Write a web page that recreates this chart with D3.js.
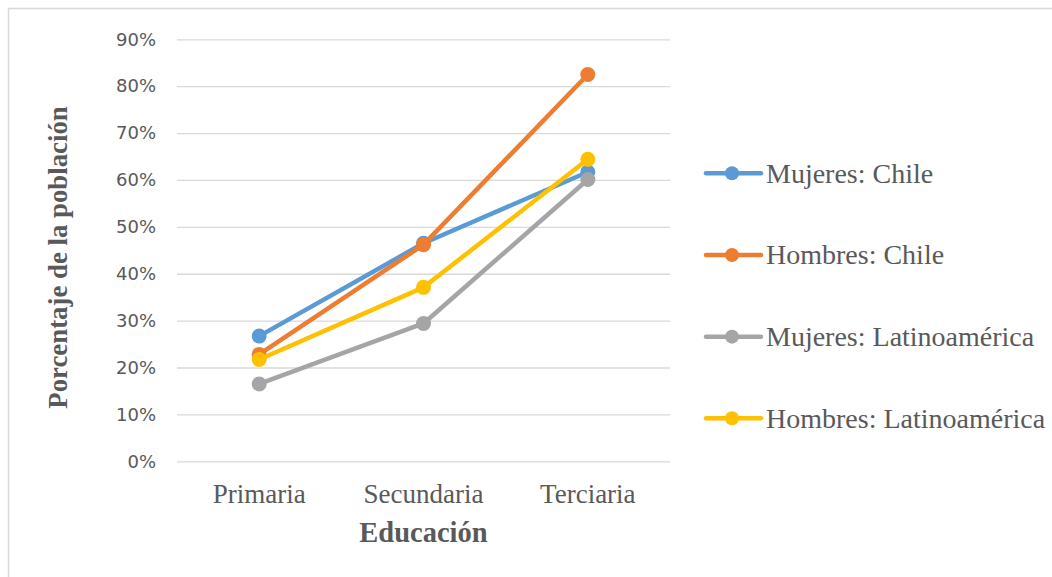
<!DOCTYPE html>
<html>
<head>
<meta charset="utf-8">
<script src="https://cdn.jsdelivr.net/npm/d3@7/dist/d3.min.js"></script>
<style>
  html, body { margin: 0; padding: 0; background: #fff; }
  svg { display: block; }
</style>
</head>
<body>
<svg id="chart" width="1052" height="577"></svg>
<script>
// ---- data ----
const categories = ["Primaria", "Secundaria", "Terciaria"];
const seriesNames = ["Mujeres: Chile", "Hombres: Chile", "Mujeres: Latinoamérica", "Hombres: Latinoamérica"];
const mujeresChile = [26.7, 46.5, 61.7];
const hombresChile = [22.8, 46.2, 82.5];
const mujeresLatam = [16.5, 29.4, 60.1];
const hombresLatam = [21.7, 37.1, 64.4];
const yTicks = [0, 10, 20, 30, 40, 50, 60, 70, 80, 90];
const seriesColors = ["#5B9BD5", "#ED7D31", "#A5A5A5", "#FFC000"];
const xTitle = "Educación";
const yTitle = "Porcentaje de la población";

const seriesValues = [mujeresChile, hombresChile, mujeresLatam, hombresLatam];
const series = seriesNames.map((n, i) => ({ name: n, values: seriesValues[i], color: seriesColors[i] }));

const svg = d3.select("#chart");
const textColor = "#595959";
const serif = "'Liberation Serif', 'Times New Roman', serif";

// outer border
svg.append("rect").attr("x", 8.5).attr("y", 8.5).attr("width", 1100).attr("height", 600)
  .attr("fill", "none").attr("stroke", "#d9d9d9").attr("stroke-width", 1.5);

const plot = { left: 177, right: 670, top: 39.3, bottom: 461.3 };

const x = d3.scaleBand().domain(categories).range([plot.left, plot.right]).padding(0);
const y = d3.scaleLinear().domain([0, 90]).range([plot.bottom, plot.top]);

// gridlines + y labels
const yAxis = d3.axisLeft(y).tickValues(yTicks).tickSize(-(plot.right - plot.left)).tickPadding(21)
  .tickFormat(d => d + "%");
const gy = svg.append("g").attr("transform", `translate(${plot.left},0)`).call(yAxis);
gy.select(".domain").remove();
gy.selectAll(".tick line").attr("stroke", "#d9d9d9").attr("stroke-width", 1.3);
gy.selectAll(".tick text").attr("fill", textColor)
  .style("font-family", "'DejaVu Sans', sans-serif").style("font-size", "18px");

// x labels
const xAxis = d3.axisBottom(x).tickSize(0).tickPadding(0);
const gx = svg.append("g").attr("transform", `translate(0,${plot.bottom})`).call(xAxis);
gx.select(".domain").remove();
gx.selectAll(".tick text").attr("fill", textColor).attr("dy", null).attr("y", 41.5)
  .style("font-family", serif).style("font-size", "27px");

// axis titles
svg.append("text").attr("x", (plot.left + plot.right) / 2).attr("y", 541.7)
  .attr("text-anchor", "middle").attr("fill", textColor)
  .style("font-family", serif).style("font-size", "28.5px").style("font-weight", "bold")
  .text(xTitle);
svg.append("text").attr("transform", "translate(67,257.5) rotate(-90)")
  .attr("text-anchor", "middle").attr("fill", textColor)
  .style("font-family", serif).style("font-size", "26.8px").style("font-weight", "bold")
  .text(yTitle);

// lines
const cx = c => x(c) + x.bandwidth() / 2;
const line = d3.line().x((d, i) => cx(categories[i])).y(d => y(d));
const g = svg.append("g");
series.forEach(s => {
  g.append("path").datum(s.values).attr("d", line).attr("fill", "none")
    .attr("stroke", s.color).attr("stroke-width", 4.5).attr("stroke-linejoin", "round").attr("stroke-linecap", "round");
  g.selectAll(null).data(s.values).enter().append("circle")
    .attr("cx", (d, i) => cx(categories[i])).attr("cy", d => y(d)).attr("r", 7.5).attr("fill", s.color);
});

// legend
const legendY = d3.scalePoint().domain(seriesNames).range([173.3, 418.3]);
const lg = svg.append("g");
series.forEach(s => {
  const ly = legendY(s.name);
  lg.append("line").attr("x1", 706).attr("x2", 761).attr("y1", ly).attr("y2", ly)
    .attr("stroke", s.color).attr("stroke-width", 4.5).attr("stroke-linecap", "round");
  lg.append("circle").attr("cx", 732).attr("cy", ly).attr("r", 7).attr("fill", s.color);
  lg.append("text").attr("x", 766).attr("y", ly).attr("dy", "0.33em").attr("fill", textColor)
    .style("font-family", serif).style("font-size", "28px").text(s.name);
});
</script>
</body>
</html>
